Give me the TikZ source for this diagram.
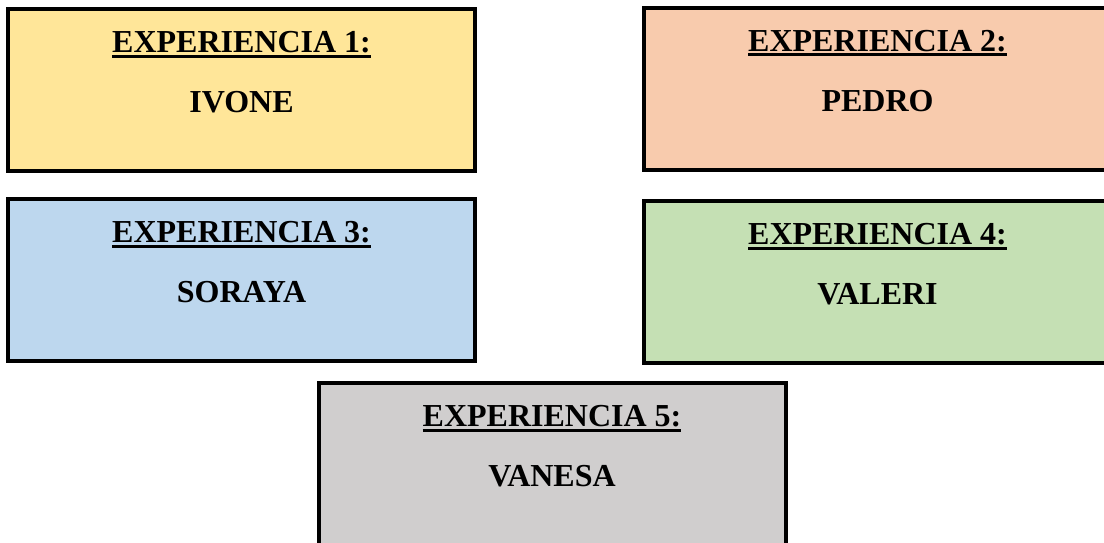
\documentclass[tikz,border=0pt]{standalone}
\usepackage{fontspec}
\setmainfont{Liberation Serif}
\usetikzlibrary{positioning}
\definecolor{expyellow}{HTML}{FFE699}
\definecolor{exppeach}{HTML}{F8CBAD}
\definecolor{expblue}{HTML}{BDD7EE}
\definecolor{expgreen}{HTML}{C5E0B4}
\definecolor{expgray}{HTML}{D0CECE}
\tikzset{
  expbox/.style={draw=black, line width=4pt, minimum width=467pt, minimum height=162pt, inner sep=0pt, outer sep=0pt},
  exptext/.style={font=\fontsize{32}{38}\selectfont\bfseries, anchor=base, inner sep=0pt, outer sep=0pt},
}
\begin{document}
\begin{tikzpicture}[x=1pt,y=-1pt]
\useasboundingbox (0,0) rectangle (1104,542);
\begin{scope}
\clip (0,0) rectangle (1104,542);
\foreach \n/\x/\y/\col/\who in {1/241.5/90.25/expyellow/IVONE,2/877.5/88.5/exppeach/PEDRO,3/241.5/280/expblue/SORAYA,4/877.5/282/expgreen/VALERI,5/552/464/expgray/VANESA}
{
	\node[expbox, fill=\col] (box\n) at (\x,\y) {};
	\node[exptext] (title\n) at ([yshift=-43.5pt]box\n.north) {EXPERIENCIA \n:};
	\draw[line width=3pt] ([yshift=-3.5pt]title\n.base west) -- ([yshift=-3.5pt]title\n.base east);
	\node[exptext] (name\n) at ([yshift=-103.5pt]box\n.north) {\who};
}
\end{scope}
\end{tikzpicture}
\end{document}
